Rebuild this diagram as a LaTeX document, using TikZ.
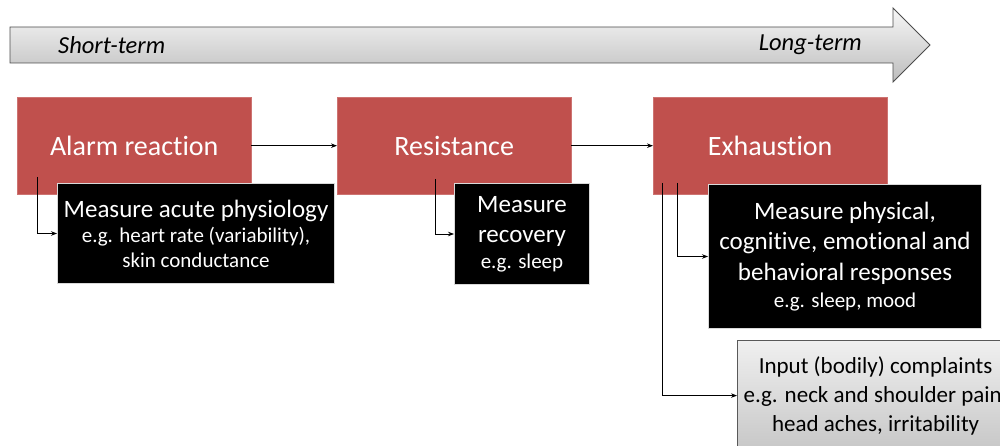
\documentclass[tikz,border=0pt]{standalone}
\usepackage{fontspec}
\setmainfont{Carlito}[Ligatures=CommonOff]
\usetikzlibrary{arrows.meta}
\definecolor{stagered}{RGB}{192,80,77}
\newcommand\stagefont{\fontsize{28}{34}\selectfont}
\newcommand\measurefont{\fontsize{25}{31}\selectfont}
\newcommand\examplefont{\fontsize{21}{25}\selectfont}
\newcommand\complaintfont{\fontsize{23}{29}\selectfont}
\newcommand\termfont{\fontsize{24.5}{29}\selectfont\itshape}
\begin{document}
\begin{tikzpicture}[x=1pt,y=-1pt,
    stage/.style={fill=stagered,draw=stagered!80!white,text=white,font=\stagefont,
      inner sep=0pt,minimum width=234pt,minimum height=97pt,anchor=north west},
    measure/.style={fill=black,draw=black!15,line width=1pt,text=white,font=\examplefont,
      align=center,inner sep=0pt,anchor=north west},
    inputbox/.style={top color=black!6,bottom color=black!22,draw=black!65,line width=1.2pt,
      font=\complaintfont,align=center,inner sep=0pt,anchor=north west,
      minimum width=276pt,minimum height=110pt},
    link/.style={-{Stealth[length=6pt,width=4.5pt]},line width=0.8pt},
    timeline/.style={top color=black!3,bottom color=black!26,draw=black!70,line width=0.9pt}]
	\useasboundingbox (0,0) rectangle (1000,446);
	\clip (0,0) rectangle (1000,446);
	% Time axis
	\draw[timeline] (10,27) -- (893,27) -- (893,8) -- (930,45) -- (893,82) -- (893,63) -- (10,63) -- cycle;
	\node[font=\termfont,inner sep=0pt,anchor=west] (short) at (58,45) {Short-term};
	\node[font=\termfont,inner sep=0pt,anchor=east] (long) at (862,45) {Long-term};
	% Stages
	\node[stage] (alarm) at (17,97) {Alarm reaction};
	\node[stage] (resist) at (337,97) {Resistance};
	\node[stage] (exhaust) at (653,97) {Exhaustion};
	\draw[link] (alarm) -- (resist);
	\draw[link] (resist) -- (exhaust);
	% Taps
	\coordinate (alarm-tap) at (37,177);
	\coordinate (resist-tap) at (435,179);
	\coordinate (exhaust-tap) at (677,183);
	\coordinate (complaint-tap) at (662,183);
	% Measures
	\node[measure,minimum width=277pt,minimum height=100pt] (acute) at (57,183)
		{{\measurefont Measure acute physiology}\\e.g. heart rate (variability),\\skin conductance};
	\node[measure,minimum width=135pt,minimum height=101pt] (recovery) at (454,183)
		{{\measurefont Measure}\\[5pt]{\measurefont recovery}\\[1pt]e.g. sleep};
	\node[measure,minimum width=273pt,minimum height=144pt] (responses) at (708,184)
		{{\measurefont Measure physical,}\\[5pt]{\measurefont cognitive, emotional and}\\[6pt]{\measurefont behavioral responses}\\[2pt]e.g. sleep, mood};
	\node[inputbox] (complaints) at (737,340)
		{Input (bodily) complaints\\e.g. neck and shoulder pain,\\head aches, irritability};
	\draw[link] (alarm-tap) |- (acute);
	\draw[link] (resist-tap) |- (recovery);
	\draw[link] (exhaust-tap) |- (responses);
	\draw[link] (complaint-tap) |- (complaints);
\end{tikzpicture}
\end{document}
